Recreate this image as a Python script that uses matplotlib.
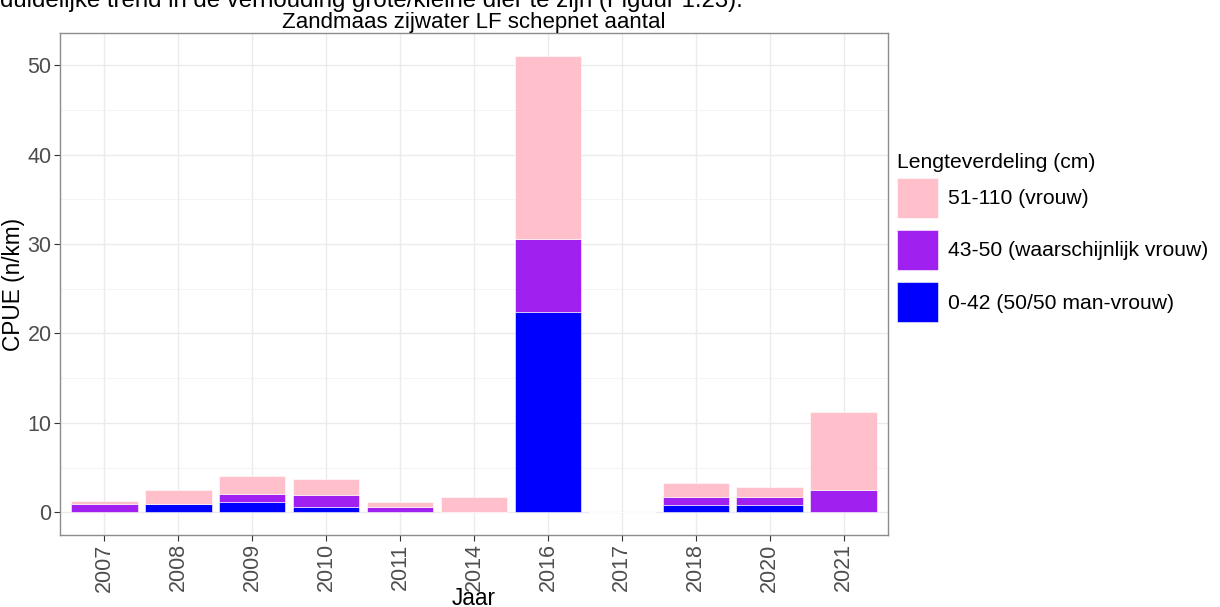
import matplotlib
matplotlib.use("Agg")
import matplotlib.pyplot as plt
from matplotlib.patches import Patch
import numpy as np

plt.rcParams['font.family'] = ['Liberation Sans', 'DejaVu Sans']

jaren = ['2007', '2008', '2009', '2010', '2011', '2014', '2016', '2017', '2018', '2020', '2021']
# CPUE (n/km) per lengteklasse
klein = [0.0, 0.93, 1.19, 0.63, 0.0, 0.0, 22.4, 0.0, 0.86, 0.86, 0.0]     # 0-42
midden = [0.93, 0.0, 0.86, 1.34, 0.6, 0.0, 8.2, 0.0, 0.86, 0.86, 2.47]   # 43-50
groot = [0.37, 1.6, 1.99, 1.76, 0.52, 1.75, 20.4, 0.0, 1.58, 1.13, 8.73]  # 51-110

labels = ['51-110 (vrouw)', '43-50 (waarschijnlijk vrouw)', '0-42 (50/50 man-vrouw)']
kleuren = ['#FFC0CB', '#A020F0', '#0000FF']

W, H = 1220, 607
fig = plt.figure(figsize=(W / 100, H / 100), dpi=100)
ax = fig.add_axes([60 / W, (H - 535) / H, (888 - 60) / W, (535 - 33) / H])

x = np.arange(len(jaren))
k = np.array(klein)
m = np.array(midden)
g = np.array(groot)
ax.bar(x, k, width=0.9, color=kleuren[2], edgecolor='white', linewidth=0.4, zorder=3)
ax.bar(x, m, width=0.9, bottom=k, color=kleuren[1], edgecolor='white', linewidth=0.4, zorder=3)
ax.bar(x, g, width=0.9, bottom=k + m, color=kleuren[0], edgecolor='white', linewidth=0.4, zorder=3)

ax.set_xlim(-0.6, len(jaren) - 0.4)
ax.set_ylim(-2.55, 53.6)
ax.set_yticks([0, 10, 20, 30, 40, 50])
ax.set_yticks([5, 15, 25, 35, 45], minor=True)
ax.set_xticks(x)
ax.set_xticklabels(jaren, rotation=90)
ax.grid(which='major', color='#EBEBEB', linewidth=1.0, zorder=0)
ax.grid(which='minor', axis='y', color='#F2F2F2', linewidth=0.6, zorder=0)
ax.tick_params(which='minor', length=0)
ax.tick_params(which='major', length=4, color='#333333', labelsize=15.5, labelcolor='#4D4D4D', pad=2)
for s in ax.spines.values():
    s.set_color('#8C8C8C')
    s.set_linewidth(1.0)

ax.set_xlabel('Jaar', fontsize=16.3)
ax.xaxis.set_label_coords(0.5, -0.104)
ax.set_ylabel('CPUE (n/km)', fontsize=16.3, labelpad=2)
ax.set_title('Zandmaas zijwater LF schepnet aantal', fontsize=16, pad=2)

handles = [Patch(facecolor=c, edgecolor='white', linewidth=0.4) for c in kleuren]
leg = fig.legend(handles, labels, title='Lengteverdeling (cm)', loc='upper left',
                 bbox_to_anchor=(889 / W, 1 - 145 / H), frameon=False, fontsize=15.2,
                 title_fontsize=15.2, handlelength=1.9, handleheight=2.54,
                 handletextpad=0.5, labelspacing=0.57, borderaxespad=0)
leg._legend_box.align = 'left'
leg._legend_box.sep = 4

# afgesneden tekst bovenaan
fig.text(0, 1 - 7 / H, 'duidelijke trend in de verhouding grote/kleine dier te zijn (Figuur 1.23).',
         fontsize=17.3, va='baseline', ha='left')

fig.savefig('out.png', dpi=100)
